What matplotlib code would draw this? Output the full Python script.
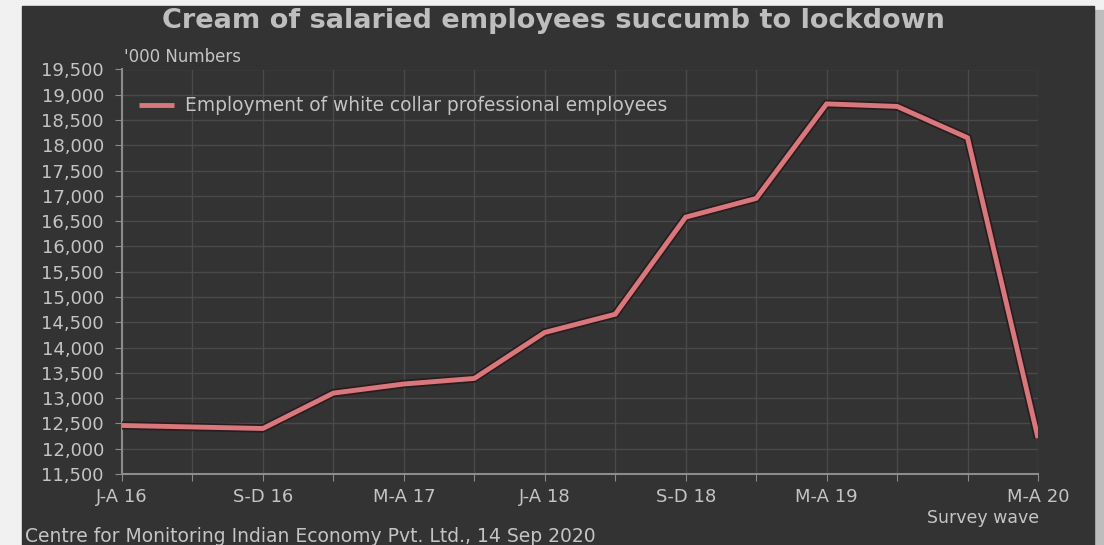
import matplotlib.pyplot as plt
from matplotlib.patches import Rectangle
from matplotlib.ticker import FuncFormatter

waves = ['J-A 16', 'M-A 16', 'S-D 16', 'J-A 17', 'M-A 17', 'S-D 17', 'J-A 18',
         'M-A 18', 'S-D 18', 'J-A 19', 'M-A 19', 'S-D 19', 'J-A 20', 'M-A 20']
employment = [12460, 12430, 12400, 13100, 13280, 13390, 14300,
              14660, 16580, 16950, 18820, 18770, 18150, 12210]
shown_labels = ['J-A 16', 'S-D 16', 'M-A 17', 'J-A 18', 'S-D 18', 'M-A 19', 'M-A 20']

plt.rcParams['font.family'] = ['DejaVu Sans']
panel = '#333333'
txt = '#c4c4c4'

fig = plt.figure(figsize=(11.04, 5.45), dpi=100, facecolor='#f1f1f1')
# dark card with a soft shadow on the right
fig.add_artist(Rectangle((1094 / 1104, 0), 10 / 1104, 1 - 10 / 545,
                         transform=fig.transFigure, color='#bdbdbd', zorder=-2))
fig.add_artist(Rectangle((22 / 1104, 0), 1072 / 1104, 1 - 6 / 545,
                         transform=fig.transFigure, color=panel, zorder=-1))

ax = fig.add_axes([122 / 1104, 1 - 474 / 545, 916 / 1104, 404.5 / 545])
ax.set_facecolor(panel)

x = list(range(len(waves)))
ax.plot(x, employment, color='#2a1c1e', linewidth=6, solid_joinstyle='miter',
        solid_capstyle='butt', zorder=3)
ax.plot(x, employment, color='#d9787c', linewidth=3.5, solid_joinstyle='miter',
        solid_capstyle='butt', zorder=4,
        label='Employment of white collar professional employees')

ax.set_xlim(0, len(waves) - 1)
ax.set_ylim(11500, 19500)
ax.set_yticks(range(11500, 20000, 500))
ax.yaxis.set_major_formatter(FuncFormatter(lambda v, p: f'{int(v):,}'))
ax.set_xticks(x)
ax.set_xticklabels([w if w in shown_labels else '' for w in waves])

ax.grid(True, color='#4a4a4a', linewidth=1)
ax.set_axisbelow(True)
for s in ['top', 'right']:
    ax.spines[s].set_visible(False)
for s in ['left', 'bottom']:
    ax.spines[s].set_color('#8c8c8c')
    ax.spines[s].set_linewidth(1.5)
ax.tick_params(colors='#8c8c8c', labelcolor=txt, labelsize=13, length=5)
ax.tick_params(axis='y', pad=8)
ax.tick_params(axis='x', pad=5)

leg = ax.legend(loc='upper left', bbox_to_anchor=(0.0, 0.975), frameon=False,
                fontsize=13.4, handlelength=1.9, handletextpad=0.6, labelcolor=txt)

fig.text(553 / 1104, 1 - 21 / 545, 'Cream of salaried employees succumb to lockdown',
         ha='center', va='center', fontsize=19.5, fontweight='bold', color='#bebebe')
fig.text(124 / 1104, 1 - 57 / 545, "'000 Numbers", ha='left', va='center',
         fontsize=12, color=txt)
fig.text(1039 / 1104, 1 - 518 / 545, 'Survey wave', ha='right', va='center',
         fontsize=12.5, color=txt)
fig.text(25 / 1104, 1 - 537 / 545,
         'Centre for Monitoring Indian Economy Pvt. Ltd., 14 Sep 2020',
         ha='left', va='center', fontsize=13.5, color=txt)

fig.savefig('out.png', dpi=100, facecolor=fig.get_facecolor())
